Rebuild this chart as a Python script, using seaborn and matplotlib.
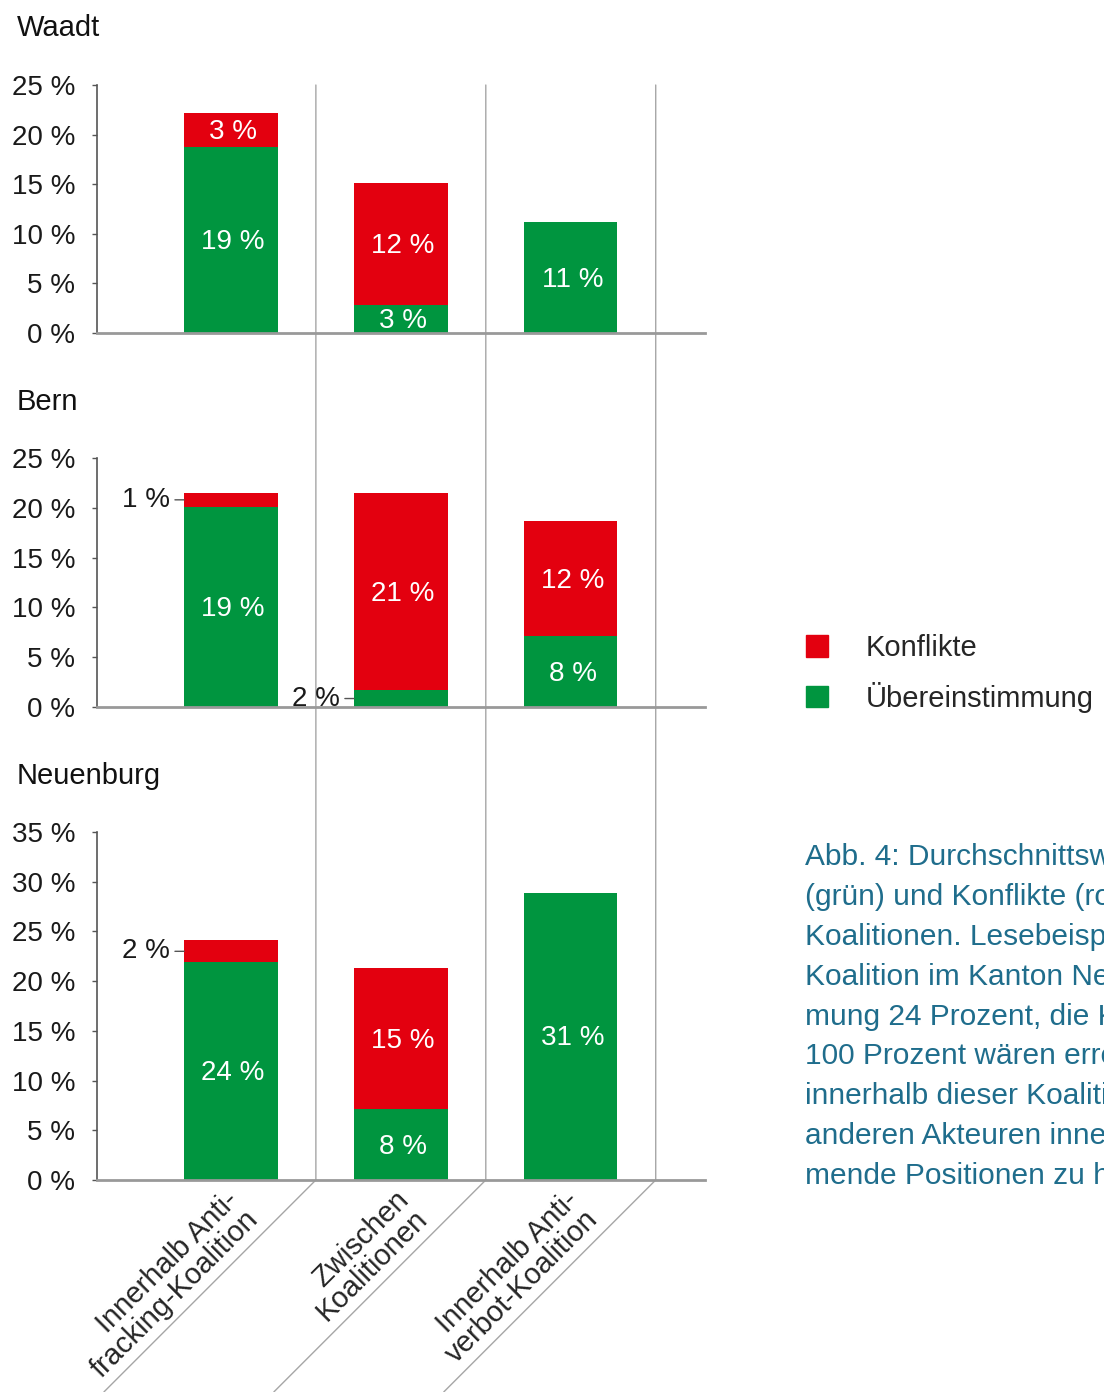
import matplotlib.pyplot as plt
import seaborn as sns
from matplotlib.patches import Patch
from matplotlib.lines import Line2D
from matplotlib.transforms import ScaledTranslation

# categories and cantons
categories = ["Innerhalb Anti-\nfracking-Koalition", "Zwischen\nKoalitionen",
              "Innerhalb Anti-\nverbot-Koalition"]
cantons = ["Waadt", "Bern", "Neuenburg"]

# bar heights (percent)
waadt_agree = [18.7, 2.8, 11.2]
waadt_conflict = [3.5, 12.3, 0.0]
bern_agree = [20.1, 1.7, 7.1]
bern_conflict = [1.4, 19.8, 11.6]
neuenburg_agree = [21.9, 7.1, 28.9]
neuenburg_conflict = [2.2, 14.2, 0.0]

# printed value labels
waadt_agree_labels = ["19 %", "3 %", "11 %"]
waadt_conflict_labels = ["3 %", "12 %", ""]
bern_agree_labels = ["19 %", "2 %", "8 %"]
bern_conflict_labels = ["1 %", "21 %", "12 %"]
neuenburg_agree_labels = ["24 %", "8 %", "31 %"]
neuenburg_conflict_labels = ["2 %", "15 %", ""]

y_max = [25, 25, 35]

caption = ("Abb. 4: Durchschnittswerte\n"
           "(grün) und Konflikte (rot)\n"
           "Koalitionen. Lesebeispiel:\n"
           "Koalition im Kanton Neuenburg\n"
           "mung 24 Prozent, die Konflikte\n"
           "100 Prozent wären erreicht\n"
           "innerhalb dieser Koalition\n"
           "anderen Akteuren innerhalb\n"
           "mende Positionen zu haben.")

RED = "#e3000f"
GREEN = "#00953f"
TEAL = "#1f6d8c"
W, H = 1104, 1392

sns.set_style("white")
plt.rcParams["font.family"] = ["Liberation Sans", "DejaVu Sans"]

fig = plt.figure(figsize=(W / 100, H / 100), dpi=100)

# panel rectangles in pixels: (top, bottom)
panel_px = [(85, 333), (458, 707), (832, 1180)]
title_y = [28, 402, 776]
left_px, right_px = 97, 705


def draw_panel(ax, agree, conflict, agree_lbl, conflict_lbl, ymax, show_x):
    total = [a + c for a, c in zip(agree, conflict)]
    sns.barplot(x=categories, y=total, color=RED, width=0.55, saturation=1,
                linewidth=0, ax=ax)
    sns.barplot(x=categories, y=agree, color=GREEN, width=0.55, saturation=1,
                linewidth=0, ax=ax)
    ax.set_facecolor("none")
    ax.set_xlim(-0.788, 2.79)
    ax.set_ylim(0, ymax)
    ax.set_yticks(range(0, ymax + 1, 5))
    ax.set_yticklabels([f"{v} %" for v in range(0, ymax + 1, 5)])
    ax.set_xlabel("")
    ax.set_ylabel("")
    for s in ["top", "right"]:
        ax.spines[s].set_visible(False)
    ax.spines["left"].set_color("#555555")
    ax.spines["left"].set_linewidth(1.2)
    ax.spines["bottom"].set_color("#999999")
    ax.spines["bottom"].set_linewidth(2)
    ax.spines["bottom"].set_zorder(5)
    ax.tick_params(axis="y", left=True, length=3.6, width=1, color="#555555",
                   pad=12, labelsize=20, labelcolor="#1a1a1a")
    ax.tick_params(axis="x", bottom=False, length=0)

    # value labels
    for i in range(3):
        segs = [(0, agree[i], agree_lbl[i]),
                (agree[i], conflict[i], conflict_lbl[i])]
        for base, h, lbl in segs:
            if not lbl:
                continue
            yc = base + h / 2
            if h < 2.5:
                ax.annotate(lbl, xy=(i - 0.275, yc), xytext=(-10, 0),
                            textcoords="offset points", ha="right", va="center",
                            fontsize=20, color="#1a1a1a",
                            arrowprops=dict(arrowstyle="-", color="#555555",
                                            lw=1, shrinkA=1, shrinkB=0))
            else:
                ax.annotate(lbl, xy=(i, yc), xytext=(1.5, -1.5),
                            textcoords="offset points", ha="center",
                            va="center", fontsize=20, color="white")

    if show_x:
        ax.set_xticks(range(3))
        ax.set_xticklabels(categories, rotation=45, ha="right", va="center",
                           rotation_mode="anchor", fontsize=21,
                           linespacing=0.95, multialignment="right")
        ax.tick_params(axis="x", pad=18)
        for lab in ax.get_xticklabels():
            lab.set_transform(lab.get_transform() +
                              ScaledTranslation(0.13, 0, fig.dpi_scale_trans))
    else:
        ax.set_xticks([])


data = [
    (waadt_agree, waadt_conflict, waadt_agree_labels, waadt_conflict_labels),
    (bern_agree, bern_conflict, bern_agree_labels, bern_conflict_labels),
    (neuenburg_agree, neuenburg_conflict, neuenburg_agree_labels,
     neuenburg_conflict_labels),
]

axes = []
for k, ((top, bot), (ag, co, agl, col)) in enumerate(zip(panel_px, data)):
    ax = fig.add_axes([left_px / W, 1 - bot / H, (right_px - left_px) / W,
                       (bot - top) / H])
    draw_panel(ax, ag, co, agl, col, y_max[k], show_x=(k == 2))
    fig.text(17 / W, 1 - title_y[k] / H, cantons[k], fontsize=21,
             va="center", ha="left", color="#111111")
    axes.append(ax)

# vertical separators running through all panels, then diagonal to the bottom
ax_bot = axes[2]
y_top = 1 - panel_px[0][0] / H
y_bot = 1 - panel_px[2][1] / H
bot_px = H - panel_px[2][1]
for i in range(3):
    xd = ax_bot.transData.transform((i + 0.5, 0))[0] / W
    fig.add_artist(Line2D([xd, xd, xd - bot_px / W], [y_top, y_bot, 0],
                          transform=fig.transFigure, color="#a6a6a6", lw=1,
                          zorder=-1))

# legend
handles = [Patch(color=RED, label="Konflikte"),
           Patch(color=GREEN, label="Übereinstimmung")]
fig.legend(handles=handles, loc="upper left",
           bbox_to_anchor=(806 / W, 1 - 634 / H), frameon=False, fontsize=21,
           handlelength=0.76, handleheight=0.76, handletextpad=1.3,
           labelspacing=0.68, borderpad=0, borderaxespad=0)

# caption
fig.text(805 / W, 1 - 843 / H, caption, va="top", ha="left", color=TEAL,
         fontsize=21.5, linespacing=1.54)

fig.savefig("out.png", dpi=100)
